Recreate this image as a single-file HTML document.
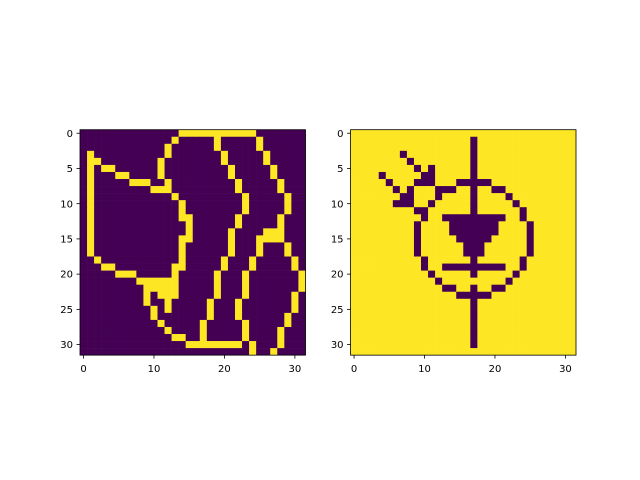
<!DOCTYPE html>
<html><head><meta charset="utf-8"><style>
body{margin:0;background:#fff;}
svg{display:block;font-family:"DejaVu Sans","Liberation Sans",sans-serif;}
</style></head><body>
<svg id="fig" width="640" height="480" viewBox="0 0 640 480">
<rect width="640" height="480" fill="#fff"/>
</svg>
<script>
// yellow segments (value 1) per row, left image
const leftSegs = [
[[14,24]],[[13,13],[19,19],[25,25]],[[12,12],[19,19],[25,25]],[[1,1],[12,12],[20,20],[26,26]],
[[1,2],[11,11],[20,20],[26,26]],[[1,1],[3,4],[11,11],[21,21],[27,27]],[[1,1],[5,6],[11,11],[21,21],[27,27]],
[[1,1],[7,9],[12,12],[22,22],[28,28]],[[1,1],[10,12],[22,22],[28,28]],[[1,1],[13,13],[23,23],[29,29]],
[[1,1],[14,14],[23,23],[29,29]],[[1,1],[14,14],[23,23],[29,29]],[[1,1],[14,15],[22,22],[28,28]],
[[1,1],[15,15],[22,22],[28,28]],[[1,1],[15,15],[21,21],[26,28]],[[1,1],[14,15],[21,21],[25,28]],
[[1,1],[14,14],[21,21],[25,25],[29,29]],[[1,1],[14,14],[21,21],[25,25],[29,29]],
[[2,2],[14,14],[20,20],[24,24],[30,30]],[[3,4],[13,14],[20,20],[24,24],[30,30]],
[[5,7],[13,13],[19,19],[23,23],[31,31]],[[8,13],[19,19],[23,23],[31,31]],[[9,13],[19,19],[23,23],[31,31]],
[[9,9],[11,13],[19,19],[23,23],[30,30]],[[9,9],[12,12],[18,18],[22,22],[30,30]],
[[10,10],[12,12],[18,18],[22,22],[30,30]],[[10,10],[18,18],[22,22],[29,29]],
[[11,11],[17,17],[23,23],[29,29]],[[12,12],[17,17],[23,23],[28,28]],[[13,14],[17,17],[23,23],[28,28]],
[[15,22],[24,24],[28,28]],[[24,24],[27,27]]
];
// purple segments (value 0) per row, right image
const rightSegs = [
[],[[17,17]],[[17,17]],[[7,7],[17,17]],[[8,8],[17,17]],[[9,9],[11,11],[17,17]],
[[4,4],[10,11],[17,17]],[[5,5],[9,11],[15,19]],[[6,6],[8,8],[12,14],[17,17],[20,21]],
[[7,8],[12,12],[17,17],[22,22]],[[6,8],[11,11],[17,17],[23,23]],[[9,10],[17,17],[24,24]],
[[10,10],[13,21],[24,24]],[[9,9],[14,20],[25,25]],[[9,9],[14,20],[25,25]],[[9,9],[15,19],[25,25]],
[[9,9],[16,18],[25,25]],[[9,9],[16,18],[25,25]],[[10,10],[17,17],[24,24]],[[10,10],[13,21],[24,24]],
[[11,11],[17,17],[23,23]],[[12,12],[22,22]],[[13,14],[17,17],[20,21]],[[15,19]],
[[17,17]],[[17,17]],[[17,17]],[[17,17]],[[17,17]],[[17,17]],[[17,17]],[]
];
const xTicks = [0,10,20,30];
const yTicks = [0,5,10,15,20,25,30];

const NS="http://www.w3.org/2000/svg";
const svg=document.getElementById('fig');
const N=32, W=225.45, TOP=129.7;
const C0='#440154', C1='#fde725';
function mk(t,a,p){const e=document.createElementNS(NS,t);for(const k in a)e.setAttribute(k,a[k]);(p||svg).appendChild(e);return e;}
function matrix(segs,base,val){const m=[];for(let r=0;r<N;r++){const row=new Array(N).fill(base);(segs[r]||[]).forEach(s=>{for(let c=s[0];c<=s[1];c++)row[c]=val;});m.push(row);}return m;}
function drawPanel(m,left,name){
  const g=mk('g',{});
  
  
  const cs=W/N;
  const sx=v=>left+(v+0.5)*cs, sy=v=>TOP+(v+0.5)*cs;
  for(let r=0;r<N;r++)for(let c=0;c<N;c++){
    const cell=mk('rect',{x:left+c*cs,y:TOP+r*cs,width:cs+0.3,height:cs+0.3,fill:m[r][c]?C1:C0},g);
    
    
  }
  const fr=mk('rect',{x:left,y:TOP,width:W,height:W,fill:'none',stroke:'#000','stroke-width':0.8},g);
  
  
  xTicks.forEach(t=>{
    mk('line',{x1:sx(t),x2:sx(t),y1:TOP+W,y2:TOP+W+3.5,stroke:'#000','stroke-width':0.8},g);
    const tx=mk('text',{x:sx(t),y:TOP+W+17,'font-size':10,'text-anchor':'middle',fill:'#000'},g);
    tx.textContent=t;
    
    
  });
  yTicks.forEach(t=>{
    mk('line',{x1:left-3.5,x2:left,y1:sy(t),y2:sy(t),stroke:'#000','stroke-width':0.8},g);
    const tx=mk('text',{x:left-7,y:sy(t)+3.6,'font-size':10,'text-anchor':'end',fill:'#000'},g);
    tx.textContent=t;
    
    
  });
}
drawPanel(matrix(leftSegs,0,1),80,'left-image-panel');
drawPanel(matrix(rightSegs,1,0),350.55,'right-image-panel');
</script>
</body></html>
